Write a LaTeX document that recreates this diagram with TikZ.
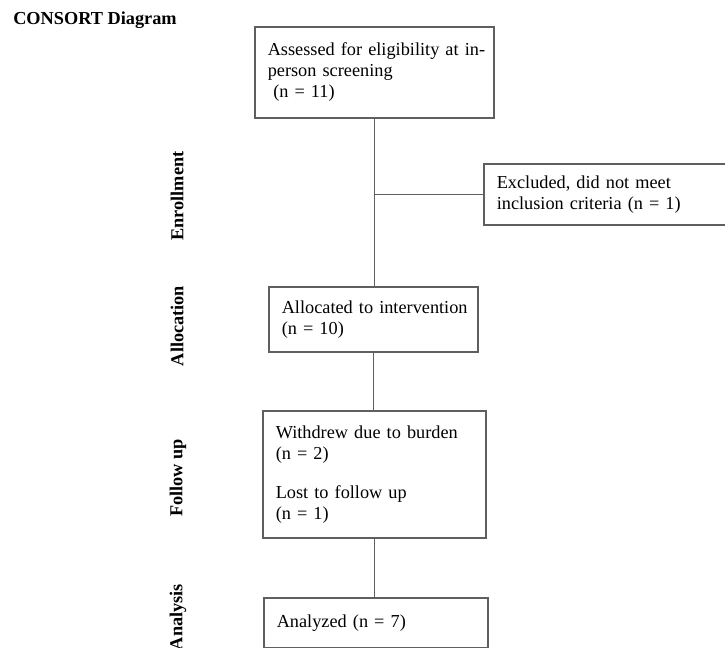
\documentclass[tikz,border=0pt]{standalone}
\usepackage{fontspec}
\setmainfont{Liberation Serif}
\usepackage{tikz}
\definecolor{boxgray}{RGB}{95,95,95}

\begin{document}
\begin{tikzpicture}[x=0.025cm, y=-0.025cm,
    box/.style={draw=boxgray, line width=1.1pt, anchor=north west, align=left,
      inner xsep=0.325cm, inner ysep=0pt, font=\fontsize{13}{14.9}\selectfont},
    phase/.style={rotate=90, inner sep=0pt, font=\fontsize{13}{15}\selectfont\bfseries},
    link/.style={draw=boxgray, line width=1.1pt}]
    \useasboundingbox (0,0) rectangle (725,648);
    \node[anchor=base west, inner sep=0pt, font=\fontsize{13}{15}\selectfont\bfseries] (title) at (13, 25) {CONSORT Diagram};
    \node[box, minimum width=5.975cm, minimum height=2.275cm, text width=5.325cm] (assess) at (254, 26) {\mbox{Assessed for eligibility at in-}\\person screening\\\hspace*{0.3em}(n = 11)};
    \node[box, minimum width=6.3cm, minimum height=1.525cm, text width=5.65cm] (excl) at (483, 163) {Excluded, did not meet\\inclusion criteria (n = 1)};
    \node[box, minimum width=5.225cm, minimum height=1.625cm, text width=4.575cm] (alloc) at (268, 286) {\mbox{Allocated to intervention}\\(n = 10)};
    \node[box, minimum width=5.575cm, minimum height=3.175cm, text width=4.925cm] (follow) at (262, 410) {Withdrew due to burden\\(n = 2)\\[13pt]Lost to follow up\\(n = 1)};
    \node[box, minimum width=5.6cm, minimum height=1.25cm, text width=4.95cm] (analysed) at (263, 597) {Analyzed (n = 7)};
    \node[phase] (enrol) at (177, 196) {Enrollment};
    \node[phase] (allocl) at (177, 326) {Allocation};
    \node[phase] (followl) at (178, 478) {Follow up};
    \node[phase] (analysisl) at (178, 617) {Analysis};
    \coordinate (split) at (assess.south |- excl.west);
    \draw[link] (assess.south) to (assess.south |- alloc.north);
    \draw[link] (split) to (excl.west);
    \draw[link] (alloc.south) to (alloc.south |- follow.north);
    \draw[link] (follow.south) to (follow.south |- analysed.north);
  \end{tikzpicture}
\end{document}
